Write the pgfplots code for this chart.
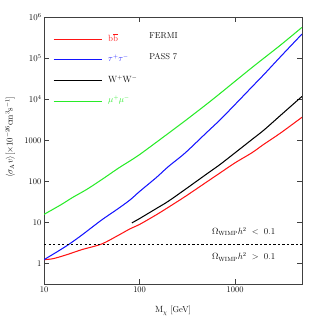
\documentclass[border=0pt]{standalone}
\usepackage{pgfplots}
\pgfplotsset{compat=1.18}
\definecolor{myred}{RGB}{255,20,20}
\definecolor{myblue}{RGB}{20,20,255}
\definecolor{mygreen}{RGB}{40,235,40}
\begin{document}
\begin{tikzpicture}[font=\fontsize{11.5}{14}\selectfont]
\begin{axis}[
  name=ax,
  scale only axis,
  width=344pt, height=356pt,
  xmode=log, ymode=log,
  xmin=10, xmax=5000, ymin=0.32, ymax=1e6,
  log basis x=10, log basis y=10,
  xtick={10,100,1000},
  xticklabels={10,100,1000},
  ytick={1,10,100,1000,1e4,1e5,1e6},
  yticklabels={1,10,100,1000,$10^4$,$10^5$,$10^6$},
  tick label style={font=\fontsize{11.5}{14}\selectfont},
  tick align=inside,
  xtick pos=both, ytick pos=both,
  minor x tick num=8, minor y tick num=8,
  axis line style={black!75, line width=0.8pt},
  every tick/.style={black!75, line width=0.6pt},
  major tick length=6pt, minor tick length=3.5pt,
  xlabel={$\rm M_\chi$ [GeV]},
  ylabel={$\langle\sigma_{\rm A}v\rangle[\times10^{-26}{\rm cm^3s^{-1}}]$},
  xlabel style={at={(rel axis cs:0.5,0)}, anchor=center, yshift=-36pt},
  ylabel style={at={(rel axis cs:0,0.55)}, anchor=center, yshift=45pt},
  legend style={at={(rel axis cs:0.035,0.93)}, anchor=north west, draw=none, fill=none,
    inner sep=0pt, row sep=18.5pt, nodes={text height=7pt, text depth=2pt, inner sep=0pt},
    /tikz/every odd column/.style={column sep=8pt}},
  legend cell align=left,
  legend image code/.code={\draw[#1] (0pt,0pt) -- (64pt,0pt);},
]
\addplot[myred, line width=1.4pt, smooth] coordinates {
(10,1.25) (12,1.3) (14,1.42) (18,1.7) (25,2.2) (40,3.0) (60,4.9) (80,7.1) (100,9)
(150,15.5) (200,23.5) (300,43) (500,96) (700,163) (1000,285) (1500,500) (2000,805)
(3000,1520) (5000,3640)};
\addlegendentry{\textcolor{myred}{$\rm b\overline{b}$}}
\addplot[myblue, line width=1.4pt, smooth] coordinates {
(10,1.25) (14,2.0) (18.4,3) (25,5.0) (40,11.5) (60,22) (80,36) (100,57) (150,125)
(200,230) (300,495) (500,1530) (700,3200) (1000,7500) (1500,20000) (2000,40000)
(3000,1.1e5) (5000,3.85e5)};
\addlegendentry{\textcolor{myblue}{$\tau^+\tau^-$}}
\addplot[black, line width=1.4pt, smooth] coordinates {
(83,9.8) (100,12.5) (150,22) (200,33) (300,64) (500,150) (700,262) (1000,500)
(1500,1050) (2000,1780) (3000,4100) (5000,11700)};
\addlegendentry{$\rm W^+W^-$}
\addplot[mygreen, line width=1.4pt, smooth] coordinates {
(10,15.8) (15,27) (20,41) (28,64) (40,110) (60,210) (80,320) (100,450) (150,900)
(200,1480) (300,3000) (500,7500) (700,14000) (1000,27500) (1500,59000) (2000,1e5)
(3000,2.1e5) (5000,5.6e5)};
\addlegendentry{\textcolor{mygreen}{$\mu^+\mu^-$}}
\addplot[black, dashed, line width=0.9pt, forget plot] coordinates {(10,3) (5000,3)};
\node[anchor=west, inner sep=0pt] at (axis cs:126,3.6e5) {FERMI};
\node[anchor=west, inner sep=0pt] at (axis cs:126,1.1e5) {PASS 7};
\node[anchor=west, inner sep=0pt] at (axis cs:571,6) {$\Omega_{\rm WIMP}h^2\ <\ 0.1$};
\node[anchor=west, inner sep=0pt] at (axis cs:571,1.45) {$\Omega_{\rm WIMP}h^2\ >\ 0.1$};
\end{axis}
\pgfresetboundingbox
\path ([shift={(-58.7pt,-46.7pt)}]ax.south west) rectangle ([shift={(22.7pt,22.7pt)}]ax.north east);
\end{tikzpicture}
\end{document}
